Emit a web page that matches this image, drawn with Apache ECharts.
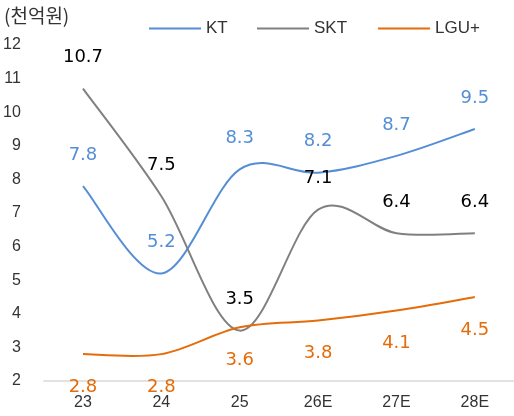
<!DOCTYPE html>
<html><head><meta charset="utf-8">
<script src="https://cdn.jsdelivr.net/npm/echarts@6/dist/echarts.min.js"></script>
<style>html,body{margin:0;padding:0;background:#fff}#c{width:514px;height:416px}</style>
</head><body><div id="c"></div>
<script>
const categories = ['23','24','25','26E','27E','28E'];
const kt = [7.8, 5.2, 8.3, 8.2, 8.7, 9.5];
const skt = [10.7, 7.5, 3.5, 7.1, 6.4, 6.4];
const lgu = [2.8, 2.8, 3.6, 3.8, 4.1, 4.5];
const seriesNames = ['KT', 'SKT', 'LGU+'];
const unitLabel = '(천억원)';
const font = '"Liberation Sans", Arial, sans-serif';
const labelFont = '"DejaVu Sans", sans-serif';
const colors = {KT: '#558ed5', SKT: '#808080', 'LGU+': '#e46c0a'};
const legendLeft = [149, 257, 378];

function lbl(color, pos, off) {
  return {show: true, position: pos, offset: [0, off], color: color, fontSize: 18,
    fontFamily: labelFont, fontWeight: 'normal',
    formatter: p => Number(p.value).toFixed(1)};
}
// Smooth curve (Catmull-Rom -> cubic Bezier) drawn through the axes' coord system
function curveSeries(name, values) {
  return {
    name: name, type: 'custom', data: values.map((v, i) => [i, v]), z: 2,
    itemStyle: {color: colors[name]},
    renderItem: function (params, api) {
      if (params.dataIndex !== 0) return null;
      const p = values.map((v, i) => api.coord([i, v]));
      let d = 'M' + p[0][0] + ' ' + p[0][1];
      for (let i = 0; i < p.length - 1; i++) {
        const p0 = p[Math.max(i - 1, 0)], p1 = p[i], p2 = p[i + 1], p3 = p[Math.min(i + 2, p.length - 1)];
        const c1 = [p1[0] + (p2[0] - p0[0]) / 6, p1[1] + (p2[1] - p0[1]) / 6];
        const c2 = [p2[0] - (p3[0] - p1[0]) / 6, p2[1] - (p3[1] - p1[1]) / 6];
        d += ' C' + c1[0] + ' ' + c1[1] + ' ' + c2[0] + ' ' + c2[1] + ' ' + p2[0] + ' ' + p2[1];
      }
      return {type: 'path', shape: {pathData: d},
        style: {stroke: colors[name], lineWidth: 2, fill: 'none'}};
    }
  };
}
function labelSeries(name, values, lcolor, pos, off) {
  return {name: name, type: 'line', data: values, symbol: 'circle', symbolSize: 0,
    lineStyle: {opacity: 0}, itemStyle: {color: colors[name]}, z: 3,
    label: lbl(lcolor, pos, off)};
}
const chart = echarts.init(document.getElementById('c'));
chart.setOption({
  animation: false,
  graphic: [{type: 'text', left: 4, top: 6, style: {text: unitLabel, fontSize: 19, fill: '#333', fontFamily: '"Noto Sans CJK KR", sans-serif'}}],
  legend: seriesNames.map((n, i) => ({top: 20, left: legendLeft[i], padding: 0, itemWidth: 52, itemHeight: 2, icon: 'rect',
    textStyle: {fontSize: 17, color: '#333', fontFamily: font}, data: [n]})),
  grid: {left: 43, right: -10, top: 45, bottom: 35},
  xAxis: {type: 'category', data: categories, boundaryGap: true,
    axisLine: {lineStyle: {color: '#d9d9d9', width: 1.5}}, axisTick: {show: false},
    axisLabel: {fontSize: 16, color: '#333', fontFamily: font, margin: 14}},
  yAxis: {type: 'value', min: 2, max: 12, interval: 1,
    axisLine: {show: false}, axisTick: {show: false}, splitLine: {show: false},
    axisLabel: {fontSize: 16, color: '#333', fontFamily: font, margin: 23}},
  series: [
    curveSeries('KT', kt), curveSeries('SKT', skt), curveSeries('LGU+', lgu),
    labelSeries('KT', kt, colors.KT, 'top', -17),
    labelSeries('SKT', skt, '#000', 'top', -17),
    labelSeries('LGU+', lgu, colors['LGU+'], 'bottom', 19)
  ]
});
</script></body></html>
